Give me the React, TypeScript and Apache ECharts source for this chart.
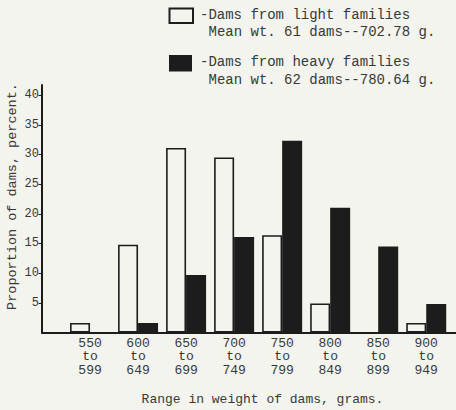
import React, { useEffect, useRef } from "react";
import * as echarts from "echarts";

const rangeStarts = [550, 600, 650, 700, 750, 800, 850, 900];
const lightFamilies = [1.6, 14.8, 31.1, 29.5, 16.4, 4.9, 0, 1.6];
const heavyFamilies = [0, 1.6, 9.7, 16.1, 32.3, 21.0, 14.5, 4.8];
const yTicks = [5, 10, 15, 20, 25, 30, 35, 40];
const legendLight = ["-Dams from light families", "Mean wt. 61 dams--702.78 g."];
const legendHeavy = ["-Dams from heavy families", "Mean wt. 62 dams--780.64 g."];
const yTitle = "Proportion of dams, percent.";
const xTitle = "Range in weight of dams, grams.";

const PAPER = "#f4f4ee";
const INK = "#1c1c1c";
const TEXT = "#383838";
const FONT = "Liberation Mono";

export default function App() {
  const ref = useRef<HTMLDivElement>(null);
  useEffect(() => {
    if (!ref.current) return;
    const chart = echarts.init(ref.current, undefined, { renderer: "svg" });
    const txt = (text: string, x: number, y: number, size: number, extra: any = {}) => ({
      type: "text",
      x,
      y,
      ...extra,
      style: {
        text,
        fontFamily: FONT,
        fontSize: size,
        fill: TEXT,
        verticalAlign: "middle",
        align: "left",
        ...(extra.style || {}),
      },
    });
    const toPoints = (vals: number[]) =>
      rangeStarts.map((x, i) => [x, vals[i] === 0 ? null : vals[i]]);
    chart.setOption({
      animation: false,
      backgroundColor: PAPER,
      grid: { left: 42, right: 0, top: 85, bottom: 77.5, containLabel: false },
      xAxis: {
        type: "value",
        min: 500,
        max: 931,
        splitLine: { show: false },
        axisTick: { show: false },
        axisLine: { show: true, lineStyle: { color: INK, width: 2 } },
        axisLabel: {
          customValues: rangeStarts,
          formatter: (v: number) => `${v}\nto\n${v + 49}`,
          fontFamily: FONT,
          fontSize: 13,
          lineHeight: 13.5,
          color: TEXT,
          margin: 4,
        },
      },
      yAxis: {
        type: "value",
        min: 0,
        max: 41.7,
        splitLine: { show: false },
        axisLine: { show: true, lineStyle: { color: INK, width: 2 } },
        axisTick: { show: true, length: 3.5, customValues: yTicks, lineStyle: { color: INK, width: 1 } },
        axisLabel: {
          customValues: yTicks,
          fontFamily: FONT,
          fontSize: 12,
          color: TEXT,
          margin: 3,
        },
      },
      series: [
        {
          type: "bar",
          data: toPoints(lightFamilies),
          barWidth: 20,
          barGap: "0%",
          itemStyle: { color: PAPER, borderColor: INK, borderWidth: 1.6 },
        },
        {
          type: "bar",
          data: toPoints(heavyFamilies),
          barWidth: 20,
          barGap: "0%",
          itemStyle: { color: INK },
        },
      ],
      graphic: [
        {
          type: "rect",
          shape: { x: 169.5, y: 8.5, width: 23.5, height: 14.5 },
          style: { fill: PAPER, stroke: INK, lineWidth: 2 },
        },
        {
          type: "rect",
          shape: { x: 169, y: 55, width: 23, height: 16.5 },
          style: { fill: INK },
        },
        txt(legendLight[0], 200, 15, 14),
        txt(legendLight[1], 208.5, 31.7, 14),
        txt(legendHeavy[0], 200, 62, 14),
        txt(legendHeavy[1], 208.5, 79.5, 14),
        txt(yTitle, 12, 196.5, 13.5, { rotation: Math.PI / 2, style: { align: "center" } }),
        txt(xTitle, 262.5, 399, 13, { style: { align: "center" } }),
      ],
    });
    return () => chart.dispose();
  }, []);
  return (
    <div
      ref={ref}
      style={{ position: "fixed", left: 0, top: 0, width: 456, height: 410, background: PAPER }}
    />
  );
}
